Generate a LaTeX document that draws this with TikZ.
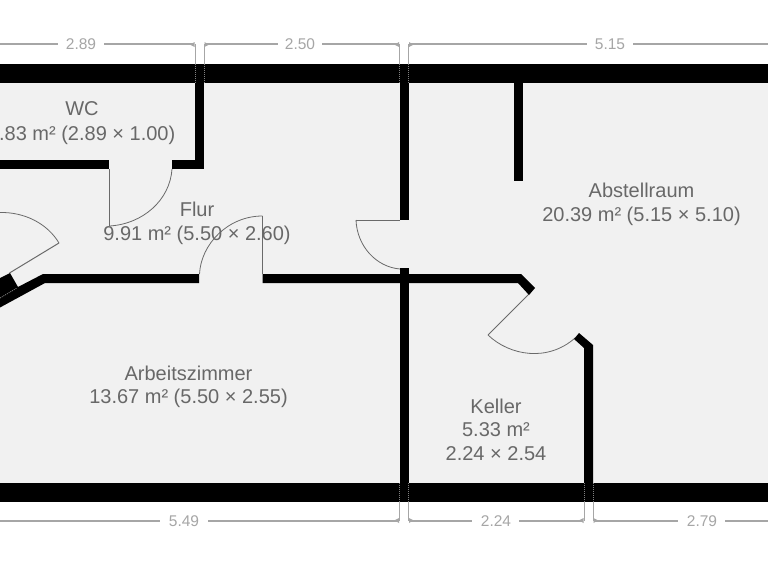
\documentclass[tikz,border=0pt]{standalone}
\usepackage{fontspec}
\setmainfont{Liberation Sans}
\definecolor{floorc}{HTML}{F1F1F1}
\definecolor{labelc}{HTML}{686868}
\definecolor{dimc}{HTML}{A6A6A6}
\definecolor{leafc}{HTML}{6A6A6A}
\tikzset{
  wall/.style={fill=black,draw=none},
  leaf/.style={draw=leafc,line width=1pt},
  arcline/.style={draw=leafc,line width=0.8pt},
  dimline/.style={draw=dimc,line width=1.4pt},
  dimtick/.style={draw=dimc,line width=1pt},
  dimdots/.style={draw=gray,line width=0.8pt,dash pattern=on 1pt off 1pt},
  roomlabel/.style={text=labelc,font=\fontsize{20}{24}\selectfont,align=center,inner sep=0pt},
  dimlabel/.style={text=dimc,font=\fontsize{15.5}{18}\selectfont,inner sep=0pt},
}
\begin{document}
\begin{tikzpicture}[x=1pt,y=-1pt]
\useasboundingbox (0,0) rectangle (768,560);
\clip (0,0) rectangle (768,560);
\fill[white] (0,0) rectangle (768,560);
\fill[floorc] (0,83) rectangle (768,483);
% door leaves and swing arcs
\draw[leaf] (109.5,169) -- (109.5,226);
\draw[arcline] (109.5,226) .. controls (143,224) and (170,200) .. (172,169);
\draw[leaf] (262.5,274) -- (262.5,216);
\draw[arcline] (262.5,216) .. controls (228,216) and (201,244) .. (199.5,274);
\draw[leaf] (400,220) -- (356,220);
\draw[arcline] (356,220) .. controls (357,246) and (376,267) .. (400,269);
\draw[leaf] (529,294) -- (488,335);
\draw[arcline] (488,335) .. controls (510,356) and (548,362) .. (575,338);
\draw[leaf] (9.5,273) -- (59,243);
\draw[arcline] (59,243) .. controls (47,223) and (24,212) .. (0,212.5);
% walls
\path[wall] (0,64) rectangle (768,83);
\path[wall] (0,483) rectangle (768,502);
\path[wall] (195,83) rectangle (204,169);
\path[wall] (172,160) rectangle (204,169);
\path[wall] (0,160) rectangle (109,169);
\path[wall] (399.5,83) rectangle (408.5,220);
\path[wall] (399.5,268) rectangle (408.5,483);
\path[wall] (513.5,83) rectangle (522.5,181);
\path[wall] (43,274) -- (199,274) -- (199,283) -- (45,283) -- (0,307.5) -- (0,278) -- (10,273) -- (18,287) -- cycle;
\path[wall] (262.5,274) -- (521,274) -- (535,288) -- (529,295) -- (518,283) -- (262.5,283) -- cycle;
\path[wall] (579,333) -- (593,345) -- (593,483) -- (584,483) -- (584,348) -- (574,339) -- cycle;
% dimension lines, top
\draw[dimline] (0,44) -- (58,44);
\draw[dimline] (104,44) -- (193,44);
\draw[dimline] (206,44) -- (278,44);
\draw[dimline] (322,44) -- (398,44);
\draw[dimline] (411,44) -- (587,44);
\draw[dimline] (633,44) -- (768,44);
\foreach \x/\s in {195/-1,204/1,399.5/-1,408.5/1}{
  \draw[dimtick] (\x,44) -- (\x,64);
  \fill[dimc] (\x+0.5*\s,42) -- (\x+5*\s,44.7) -- (\x+0.5*\s,47) -- cycle;
  \draw[dimdots] (\x,64) -- (\x,83);
}
% dimension lines, bottom
\draw[dimline] (0,521) -- (160,521);
\draw[dimline] (208,521) -- (398,521);
\draw[dimline] (410,521) -- (472,521);
\draw[dimline] (519,521) -- (583,521);
\draw[dimline] (595,521) -- (678,521);
\draw[dimline] (725,521) -- (768,521);
\foreach \x/\s in {399.5/-1,408.5/1,584/-1,593/1}{
  \draw[dimtick] (\x,502) -- (\x,521);
  \fill[dimc] (\x+0.5*\s,523) -- (\x+5*\s,520.3) -- (\x+0.5*\s,518) -- cycle;
  \draw[dimdots] (\x,483) -- (\x,502);
}
\draw[dimdots] (0,298) -- (17,288);
% dimension labels
\node[dimlabel] (d1) at (81,44.5) {2.89};
\node[dimlabel] (d2) at (300,44.5) {2.50};
\node[dimlabel] (d3) at (610,44.5) {5.15};
\node[dimlabel] (d4) at (184,521.5) {5.49};
\node[dimlabel] (d5) at (496,521.5) {2.24};
\node[dimlabel] (d6) at (702,521.5) {2.79};
% room labels
\node[roomlabel] (wc) at (82,109) {WC};
\node[roomlabel,anchor=east] (wcb) at (175.5,135) {2.83 m² (2.89 × 1.00)};
\node[roomlabel] (fl) at (197,209) {Flur};
\node[roomlabel] (flb) at (197,235) {9.91 m² (5.50 × 2.60)};
\node[roomlabel] (ab) at (641.5,190.5) {Abstellraum};
\node[roomlabel] (abb) at (641.5,216) {20.39 m² (5.15 × 5.10)};
\node[roomlabel] (az) at (188.5,373) {Arbeitszimmer};
\node[roomlabel] (azb) at (188.5,398) {13.67 m² (5.50 × 2.55)};
\node[roomlabel] (ke) at (496,406) {Keller};
\node[roomlabel] (keb) at (496,430) {5.33 m²};
\node[roomlabel] (kec) at (496,454) {2.24 × 2.54};
\end{tikzpicture}
\end{document}
